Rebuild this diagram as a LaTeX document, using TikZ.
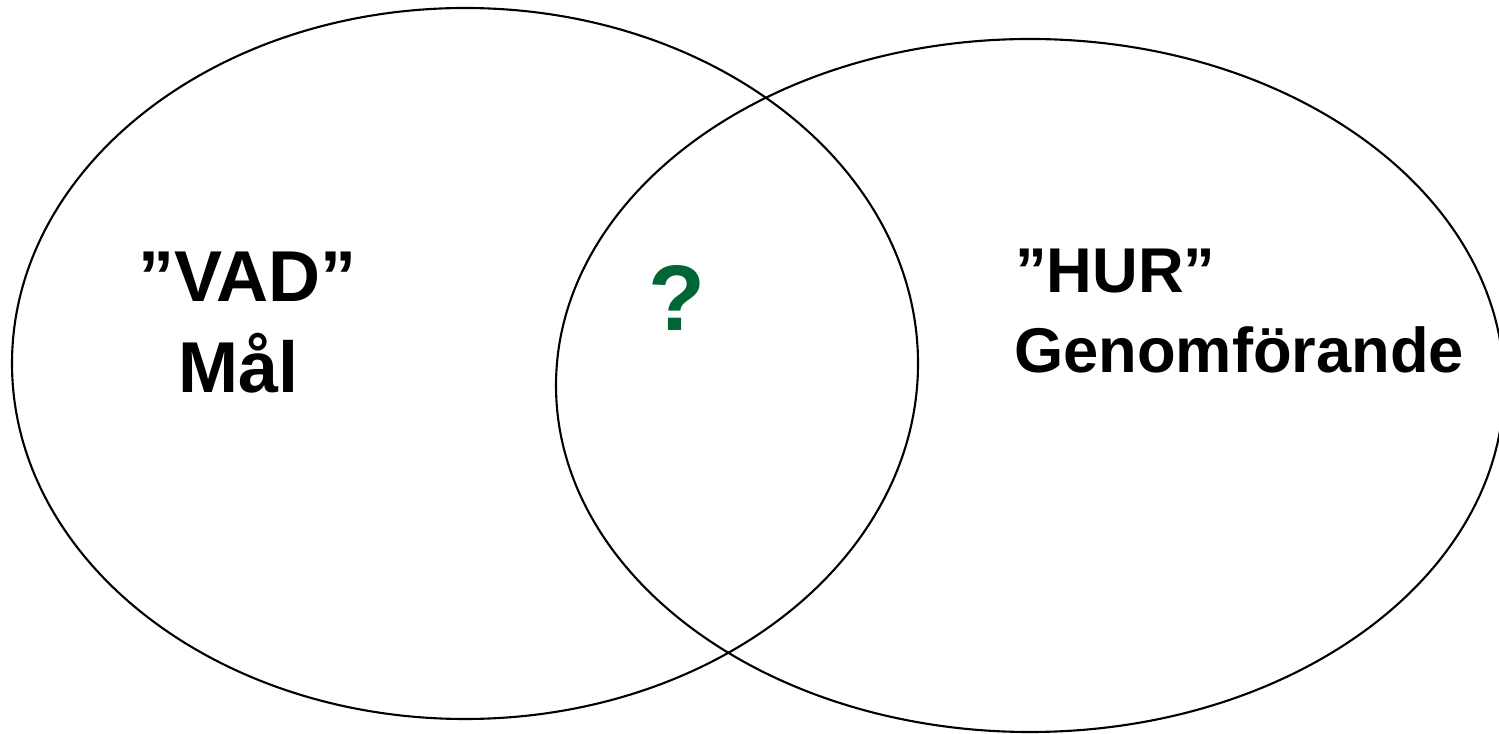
\documentclass[tikz,border=0pt]{standalone}
\usepackage{fontspec}
\setmainfont{Liberation Sans}
\usepackage{xcolor}
\usepackage{tikz}
\definecolor{qgreen}{RGB}{0,102,51}

\begin{document}
\begin{tikzpicture}[y=-1cm, line width=0.6pt]
  \useasboundingbox (0,0) rectangle (14.99,7.34);
  \draw[black] (4.65,3.635) ellipse [x radius=4.53, y radius=3.555];
  \draw[black] (10.30,3.855) ellipse [x radius=4.74, y radius=3.465];
  \node[anchor=base west,inner sep=0pt,font=\bfseries\fontsize{20.5}{24}\selectfont] (vad) at (1.37,3.02) {”VAD”};
  \node[anchor=base west,inner sep=0pt,font=\bfseries\fontsize{20.5}{24}\selectfont] (mal) at (1.77,3.93) {Mål};
  \node[anchor=base west,inner sep=0pt,font=\bfseries\fontsize{26.5}{30}\selectfont,text=qgreen] (fraga) at (6.47,3.31) {?};
  \node[anchor=base west,inner sep=0pt,font=\bfseries\fontsize{18}{21}\selectfont] (hur) at (10.14,2.93) {”HUR”};
  \node[anchor=base west,inner sep=0pt,font=\bfseries\fontsize{18}{21}\selectfont] (genom) at (10.13,3.73) {Genomförande};
\end{tikzpicture}
\end{document}
